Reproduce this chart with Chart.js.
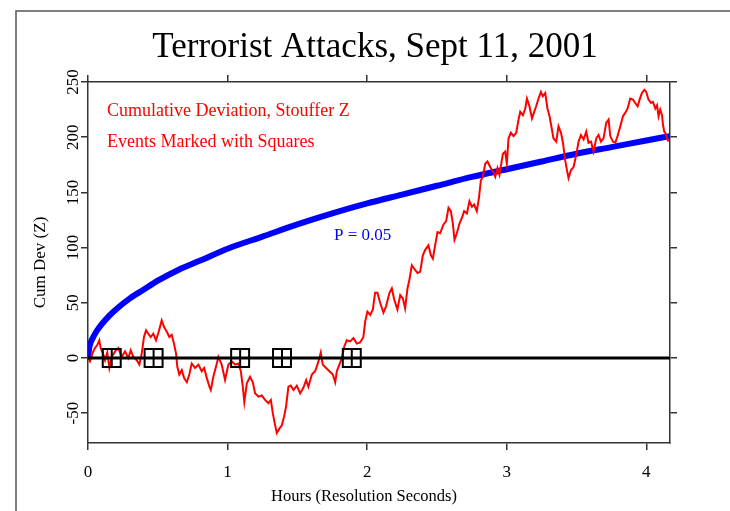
<!DOCTYPE html>
<html lang="en">
<head>
    <meta charset="UTF-8">
    <title>Terrorist Attacks, Sept 11, 2001</title>
    <script src="https://cdn.jsdelivr.net/npm/chart.js"></script>
    <style>
        body { margin: 0; background: #fff; }
    </style>
</head>
<body>
    <canvas id="grafico" width="730" height="511"></canvas>

    <script>
        // cumulative deviation (Stouffer Z)
        const redHours = [0, 0.014, 0.034, 0.05, 0.067, 0.081, 0.091, 0.105, 0.122, 0.138, 0.153, 0.17, 0.194, 0.217, 0.242, 0.265, 0.289, 0.306, 0.325, 0.349,
            0.368, 0.385, 0.401, 0.416, 0.432, 0.449, 0.468, 0.487, 0.507, 0.528, 0.545, 0.564, 0.583, 0.6, 0.616, 0.631, 0.64, 0.654, 0.672, 0.688,
            0.708, 0.726, 0.743, 0.767, 0.791, 0.815, 0.832, 0.851, 0.87, 0.88, 0.898, 0.923, 0.934, 0.958, 0.982, 1.006, 1.03, 1.054, 1.077, 1.095,
            1.109, 1.12, 1.138, 1.161, 1.181, 1.197, 1.221, 1.245, 1.269, 1.292, 1.31, 1.324, 1.341, 1.353, 1.371, 1.389, 1.405, 1.419, 1.436, 1.453,
            1.472, 1.496, 1.52, 1.543, 1.563, 1.579, 1.604, 1.627, 1.644, 1.658, 1.668, 1.682, 1.706, 1.73, 1.754, 1.771, 1.783, 1.801, 1.819, 1.835,
            1.854, 1.878, 1.902, 1.926, 1.95, 1.973, 1.986, 2.002, 2.022, 2.041, 2.057, 2.074, 2.093, 2.117, 2.136, 2.16, 2.177, 2.194, 2.217, 2.237,
            2.256, 2.272, 2.289, 2.303, 2.32, 2.337, 2.361, 2.38, 2.399, 2.416, 2.439, 2.457, 2.471, 2.487, 2.504, 2.523, 2.547, 2.566, 2.583, 2.6,
            2.614, 2.626, 2.643, 2.662, 2.679, 2.695, 2.715, 2.733, 2.751, 2.767, 2.786, 2.801, 2.815, 2.829, 2.846, 2.862, 2.882, 2.901, 2.918, 2.934,
            2.948, 2.973, 2.989, 3.001, 3.013, 3.03, 3.049, 3.068, 3.085, 3.097, 3.116, 3.133, 3.145, 3.163, 3.181, 3.197, 3.211, 3.228, 3.245, 3.259,
            3.276, 3.292, 3.307, 3.324, 3.335, 3.355, 3.371, 3.389, 3.403, 3.419, 3.432, 3.443, 3.46, 3.479, 3.498, 3.515, 3.532, 3.551, 3.57, 3.586,
            3.604, 3.622, 3.642, 3.658, 3.675, 3.694, 3.713, 3.73, 3.742, 3.761, 3.778, 3.794, 3.814, 3.833, 3.849, 3.866, 3.885, 3.905, 3.921, 3.938,
            3.952, 3.969, 3.986, 4.0, 4.016, 4.034, 4.048, 4.065, 4.077, 4.088, 4.1, 4.113, 4.12, 4.129, 4.136, 4.148, 4.16];
        const redValues = [0, -3, 5, 9, 12, 16, 9, 5, -2, 5, -9, 1, 6, 9, 1, 6, 0, 7, 1, -2,
            -6, 4, 19, 25, 22, 19, 22, 16, 24, 34, 28, 24, 19, 21, 13, 4, -8, -15, -11, -18,
            -22, -15, -5, -9, -6, -12, -9, -18, -26, -29, -17, -5, 1, -6, -20, -6, -3, -6, -5, -12,
            -26, -40, -23, -17, -22, -32, -35, -34, -38, -41, -38, -50, -61, -68, -64, -61, -53, -44, -26, -25,
            -29, -25, -32, -27, -20, -26, -15, -12, -6, 0, 5, -6, -9, -12, -15, -22, -12, -6, 0, 10,
            16, 15, 18, 13, 14, 19, 33, 42, 39, 44, 59, 59, 50, 41, 47, 59, 63, 53, 44, 57,
            54, 45, 63, 71, 84, 81, 77, 78, 93, 98, 102, 93, 90, 102, 114, 113, 121, 124, 136, 133,
            122, 107, 113, 122, 127, 133, 131, 142, 137, 139, 133, 145, 161, 164, 176, 178, 173, 169, 164, 172,
            166, 185, 187, 176, 199, 204, 201, 204, 216, 223, 220, 226, 235, 228, 217, 223, 228, 235, 241, 237,
            240, 226, 219, 207, 199, 196, 210, 204, 195, 179, 170, 163, 170, 173, 184, 196, 202, 198, 205, 195,
            196, 187, 199, 202, 196, 199, 213, 216, 201, 196, 195, 201, 210, 219, 222, 226, 235, 234, 231, 228,
            234, 240, 243, 241, 234, 231, 232, 226, 229, 219, 225, 220, 211, 205, 204, 199, 196];

        // P = 0.05 envelope
        const boundHours = [0, 0.01, 0.03, 0.06, 0.1, 0.15, 0.2, 0.3, 0.4, 0.5, 0.65, 0.8, 1.0, 1.25, 1.5, 1.75, 2.0, 2.25, 2.5, 2.75, 3.0, 3.25, 3.5, 3.75, 4.0, 4.17];
        const boundValues = [0, 10, 17, 24, 31, 38, 44, 54, 62, 70, 80, 88, 99, 110, 121, 131, 140, 148, 156, 164, 171, 178, 185, 191, 197, 201];

        // events marked with squares
        const eventHours = [0.17, 0.47, 1.09, 1.39, 1.89];

        const xMin = 0, xMax = 4.17;
        const yMin = -77, yMax = 250;
        const serif = "'Liberation Serif', 'DejaVu Serif', serif";

        const puntos = (xs, ys) => xs.map((x, i) => ({ x: x, y: ys[i] }));
        const eventos = eventHours.map(h => ({ x: h, y: 0 }));

        const textos = {
            id: 'textos',
            beforeDraw(chart) {
                const c = chart.ctx;
                c.save();
                c.strokeStyle = '#555';
                c.lineWidth = 1.5;
                c.beginPath();
                c.moveTo(16, 520);
                c.lineTo(16, 11);
                c.lineTo(740, 11);
                c.stroke();
                c.restore();
            },
            afterDraw(chart) {
                const c = chart.ctx;
                const y = chart.scales.y;
                c.save();
                c.fillStyle = '#000';
                c.textAlign = 'center';
                c.textBaseline = 'middle';
                c.font = '35px ' + serif;
                c.fillText('Terrorist Attacks, Sept 11, 2001', 375, 48);

                c.font = '16.5px ' + serif;
                c.fillText('Hours (Resolution Seconds)', 364, 497);

                // y tick labels, rotated
                c.font = '17px ' + serif;
                y.ticks.forEach(t => {
                    c.save();
                    c.translate(74, y.getPixelForValue(t.value));
                    c.rotate(-Math.PI / 2);
                    c.fillText(String(t.value), 0, 0);
                    c.restore();
                });

                c.textAlign = 'left';
                c.fillStyle = '#ff0000';
                c.font = '18px ' + serif;
                c.fillText('Cumulative Deviation, Stouffer Z', 107, 111);
                c.fillText('Events Marked with Squares', 107, 142);
                c.fillStyle = '#0000ff';
                c.font = '17px ' + serif;
                c.fillText('P = 0.05', 334, 236);
                c.restore();
            }
        };

        const ejeBase = {
            type: 'linear',
            grid: { drawOnChartArea: false, drawTicks: true, tickLength: 7, color: '#333', lineWidth: 1.5 },
            border: { color: '#333', width: 1.5 }
        };

        const ctx = document.getElementById('grafico').getContext('2d');
        const grafico = new Chart(ctx, {
            type: 'line',
            data: {
                datasets: [
                    {
                        label: 'cross',
                        data: eventos,
                        showLine: false,
                        pointStyle: 'cross',
                        pointRadius: 9,
                        borderColor: '#000',
                        borderWidth: 2
                    },
                    {
                        label: 'squares',
                        data: eventos,
                        showLine: false,
                        pointStyle: 'rect',
                        pointRadius: 12.7,
                        borderColor: '#000',
                        backgroundColor: 'rgba(0,0,0,0)',
                        borderWidth: 2
                    },
                    {
                        label: 'zero',
                        data: [{ x: xMin, y: 0 }, { x: xMax, y: 0 }],
                        borderColor: '#000',
                        borderWidth: 3,
                        pointRadius: 0
                    },
                    {
                        label: 'Cumulative Deviation',
                        data: puntos(redHours, redValues),
                        borderColor: '#ff0000',
                        borderWidth: 2,
                        pointRadius: 0,
                        tension: 0
                    },
                    {
                        label: 'P = 0.05',
                        data: puntos(boundHours, boundValues),
                        borderColor: '#0000ff',
                        borderWidth: 6,
                        pointRadius: 0,
                        cubicInterpolationMode: 'monotone'
                    }
                ]
            },
            options: {
                responsive: false,
                animation: false,
                devicePixelRatio: 1,
                layout: { padding: 0 },
                plugins: { legend: { display: false }, tooltip: { enabled: false } },
                scales: {
                    x: Object.assign({}, ejeBase, {
                        position: 'bottom', min: xMin, max: xMax,
                        ticks: { stepSize: 1, includeBounds: false, padding: 12, color: '#000', font: { family: serif, size: 17 } },
                        afterFit: s => { s.height = 68; }
                    }),
                    x2: Object.assign({}, ejeBase, {
                        position: 'top', min: xMin, max: xMax,
                        ticks: { stepSize: 1, includeBounds: false, display: false },
                        afterFit: s => { s.height = 82; }
                    }),
                    y: Object.assign({}, ejeBase, {
                        position: 'left', min: yMin, max: yMax,
                        ticks: { stepSize: 50, includeBounds: false, display: false },
                        title: { display: true, text: 'Cum Dev (Z)', color: '#000', font: { family: serif, size: 17 }, padding: { top: 30, bottom: 0 } },
                        afterFit: s => { s.width = 88; }
                    }),
                    y2: Object.assign({}, ejeBase, {
                        position: 'right', min: yMin, max: yMax,
                        ticks: { stepSize: 50, includeBounds: false, display: false },
                        afterFit: s => { s.width = 60; }
                    })
                }
            },
            plugins: [textos]
        });
    </script>
</body>
</html>
